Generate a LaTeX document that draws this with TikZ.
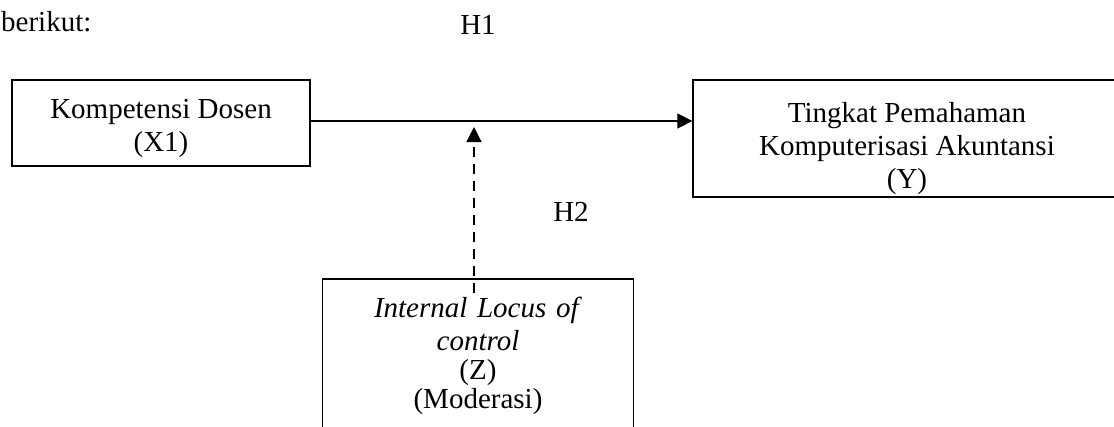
\documentclass[tikz,border=0pt]{standalone}
\usepackage{fontspec}
\setmainfont{Liberation Serif}
\usetikzlibrary{arrows.meta,calc}
\begin{document}
\begin{tikzpicture}[x=1pt,y=-1pt,
  every node/.style={font=\fontsize{29}{33}\selectfont},
  boxline/.style={draw=black,line width=1.3pt},
  varbox/.style={boxline,align=center,inner sep=0pt},
  arr/.style={line width=1.2pt,-{Triangle[length=15pt,width=15pt]}},
  darr/.style={line width=1.2pt,dash pattern=on 10pt off 7pt,-{Triangle[length=15pt,width=15pt]}},
  plain/.style={inner sep=0pt}]
\useasboundingbox (0,0) rectangle (1114,426);
\node[plain,anchor=base west] (intro) at (1,31) {berikut:};
\node[plain,anchor=base] (h1) at (478,34) {H1};
\node[plain,anchor=base] (h2) at (571,221) {H2};
\node[varbox,minimum width=298pt,minimum height=86pt] (x1) at (161,123)
  {\rule{0pt}{31pt}Kompetensi Dosen\\(X1)};
\node[varbox,minimum width=428pt,minimum height=117pt] (y) at (907,138.5)
  {\rule{0pt}{41pt}Tingkat Pemahaman\\Komputerisasi Akuntansi\\(Y)};
\node[plain,anchor=north,text width=310pt,align=center] (z) at (478,279)
  {\rule{0pt}{38pt}\textit{Internal Locus of}\\\textit{control}\\[-4pt](Z)\\[-4pt](Moderasi)};
\draw[boxline] ([yshift=-60pt]z.south west) -- (z.north west) -- (z.north east) -- ([yshift=-60pt]z.south east);
\draw[arr] ([yshift=2pt]x1.east) -- ([yshift=2pt]x1.east -| y.west);
\coordinate (zs) at ([xshift=-4pt,yshift=-14pt]z.north);
\coordinate (m) at (474,127);
\draw[darr] (zs) -- (m);
\end{tikzpicture}
\end{document}
